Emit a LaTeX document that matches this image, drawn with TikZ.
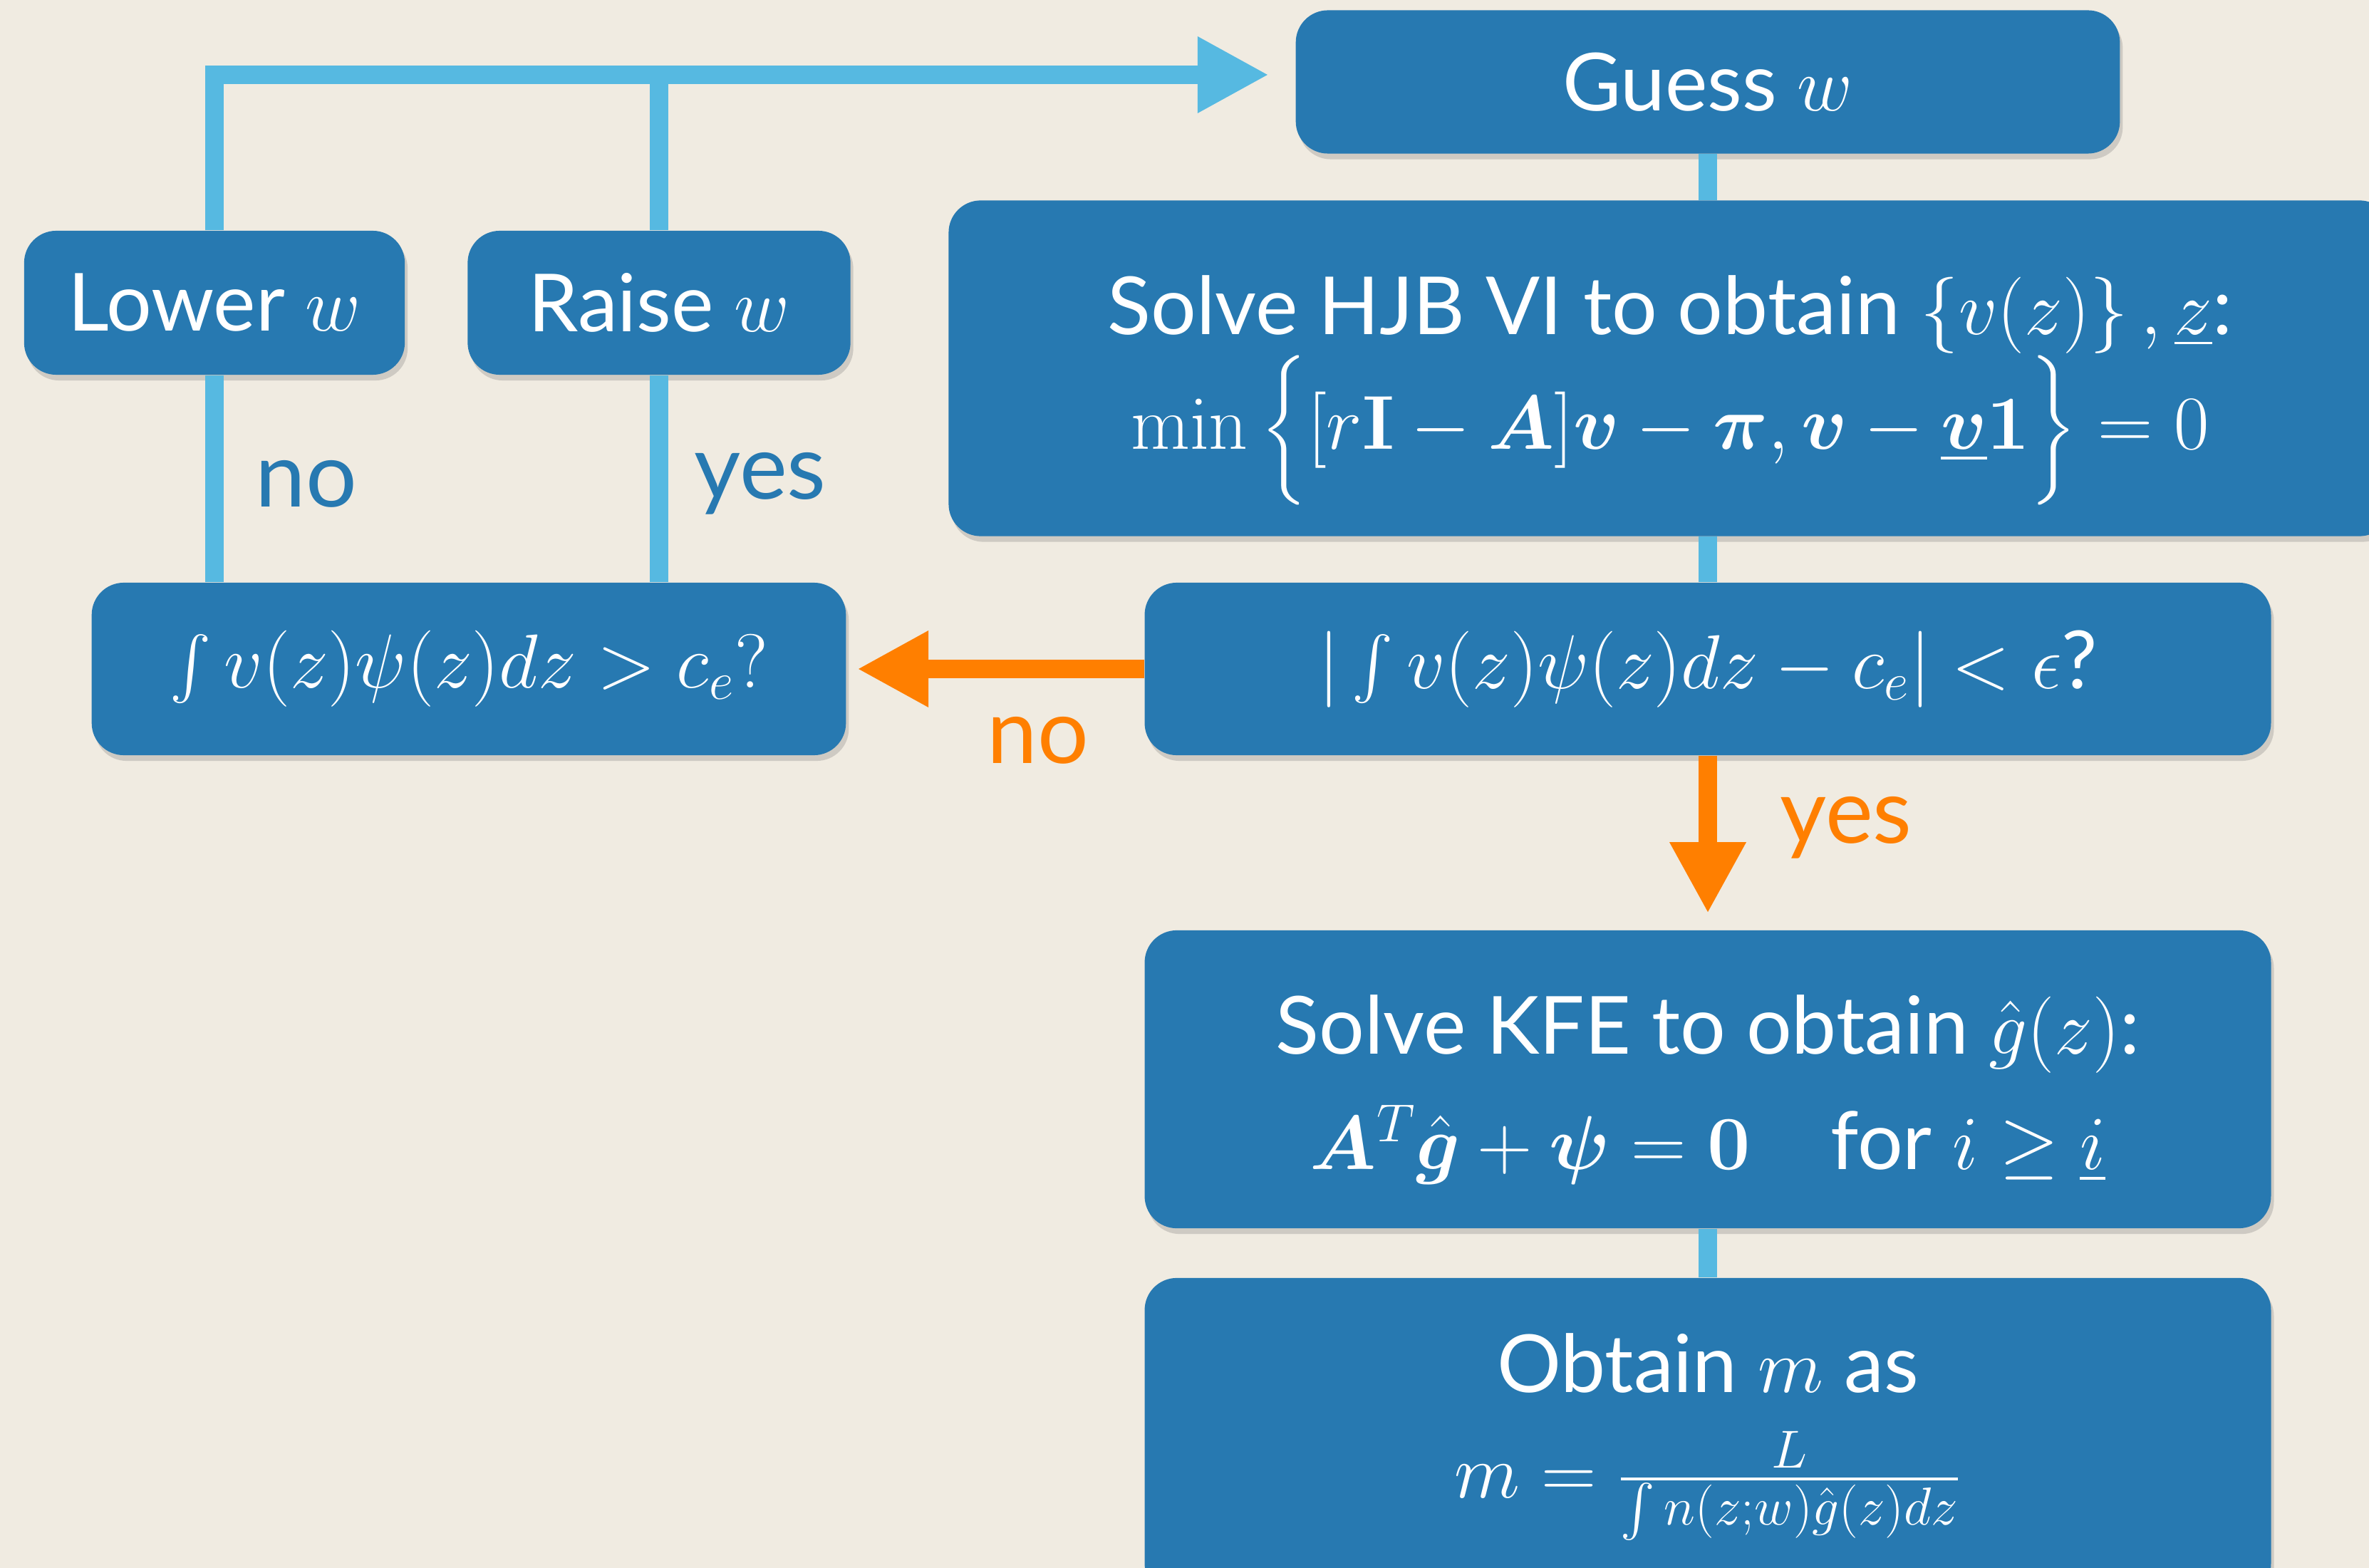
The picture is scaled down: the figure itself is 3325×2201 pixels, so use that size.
\documentclass[tikz,border=0pt]{standalone}
\usepackage{fix-cm}
\usepackage{amsmath}
\usepackage{bm}
\usepackage[no-math]{fontspec}
\setmainfont{Lato}
\usepackage{tikz}
\usetikzlibrary{arrows.meta, shadows}
\usepackage{xcolor}

\definecolor{bgcream}{HTML}{F0EBE1}
\definecolor{boxblue}{HTML}{2779B1}
\definecolor{linkblue}{HTML}{56B9E1}
\definecolor{flagorange}{HTML}{FF7F00}

% math at its own size next to the sans text
\newcommand{\eqpart}[1]{{\fontsize{30.5}{46}\selectfont$#1$}}

\tikzset{
  stepbox/.style = {rounded corners = 0.45cm, fill = boxblue, text = white, align = center,
    inner sep = 0pt, font = \fontsize{32}{46}\selectfont,
    drop shadow = {shadow xshift = 0.04cm, shadow yshift = -0.08cm, opacity = 0.3}},
  answer/.style = {font = \fontsize{36}{40}\selectfont, inner sep = 0pt},
  link/.style = {linkblue, line width = 0.26cm},
  flag/.style = {flagorange, line width = 0.26cm, -{Triangle[width = 1cm, length = 1cm]}},
}

\begin{document}
\begin{tikzpicture}[x = 0.01cm, y = -0.01cm]
\useasboundingbox (0, 0) rectangle (3325, 2201);
\fill[bgcream] (0, 0) rectangle (3325, 2201);
\clip (0, 0) rectangle (3325, 2201);

\node(guess) at (2397, 115) [stepbox, minimum width = 11.56cm, minimum height = 2.01cm] {Guess \eqpart{w}};
\node(hjb) at (2344, 517) [stepbox, minimum width = 20.24cm, minimum height = 4.71cm]
  {\rule{0pt}{41pt}Solve HJB VI to obtain \eqpart{\left\{v(z)\right\},\underline{z}}:\\
   \eqpart{\min\Big\{[r\mathbf{I}-\bm{A}]\bm{v}-\bm{\pi},\bm{v}-\underline{\bm{v}}\mathbf{1}\Big\}=0}};
\node(lower) at (301, 425) [stepbox, minimum width = 5.34cm, minimum height = 2.02cm] {Lower \eqpart{w}};
\node(raise) at (925, 425) [stepbox, minimum width = 5.37cm, minimum height = 2.02cm] {Raise \eqpart{w}};
\node(intq) at (658, 939) [stepbox, minimum width = 10.58cm, minimum height = 2.42cm]
  {\eqpart{\int v(z)\psi(z)dz > c_e?}};
\node(absq) at (2397, 939) [stepbox, minimum width = 15.80cm, minimum height = 2.42cm]
  {\eqpart{|\int v(z)\psi(z)dz - c_e| < \epsilon}?};
\node(kfe) at (2397, 1515) [stepbox, minimum width = 15.80cm, minimum height = 4.18cm]
  {\rule{0pt}{32pt}Solve KFE to obtain \eqpart{\hat{g}(z)}:\\
   \eqpart{\bm{A}^T\hat{\bm{g}}+\bm{\psi}=\mathbf{0}}\quad for \eqpart{i\geq\underline{i}}};
\node(obtain) at (2397, 2017) [stepbox, minimum width = 15.80cm, minimum height = 4.46cm]
  {Obtain \eqpart{m} as\\[-4pt]
   \eqpart{m=\frac{L}{\int n(z;w)\hat{g}(z)dz}}};

\node(nolower) at (430, 679) [answer, text = boxblue] {no};
\node(yesraise) at (1067, 679) [answer, text = boxblue] {yes};
\node(noabs) at (1457, 1039) [answer, text = flagorange] {no};
\node(yesabs) at (2591, 1162) [answer, text = flagorange] {yes};

\coordinate(back) at ([yshift = 0.1cm]guess.west);

% main chain
\draw[link] (guess.south) -- (guess.south |- hjb.north);
\draw[link] (absq.north |- hjb.south) -- (absq.north);
\draw[link] (kfe.south) -- (obtain.north);
% feedback to the guess
\draw[link] (intq.north -| lower) -- (lower.south);
\draw[link] (intq.north -| raise) -- (raise.south);
\draw[link] (raise.north) -- (raise.north |- back);
\draw[link, -{Triangle[width = 1cm, length = 1cm]}, shorten > = 0.37cm] (lower.north) |- (back);
% decisions
\draw[flag, shorten > = 0.15cm] (absq.west) -- (intq.east);
\draw[flag, shorten > = 0.23cm] (absq.south) -- (kfe.north);
\end{tikzpicture}
\end{document}
